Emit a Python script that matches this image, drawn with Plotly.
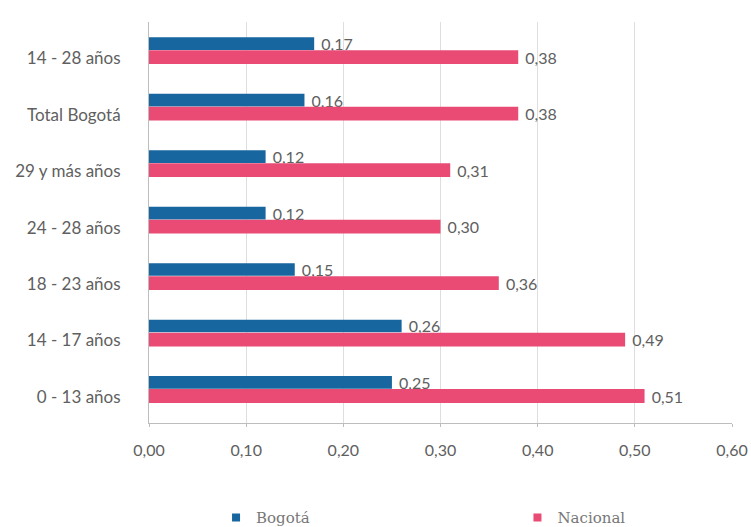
import plotly.graph_objects as go

categories = ["14 - 28 años", "Total Bogotá", "29 y más años", "24 - 28 años",
              "18 - 23 años", "14 - 17 años", "0 - 13 años"]
bogota = [0.17, 0.16, 0.12, 0.12, 0.15, 0.26, 0.25]
nacional = [0.38, 0.38, 0.31, 0.30, 0.36, 0.49, 0.51]
x_ticks = [0.0, 0.1, 0.2, 0.3, 0.4, 0.5, 0.6]

BLUE = "#17669f"
PINK = "#e94b75"
TXT = "#606060"

fig = go.Figure()
fig.add_trace(go.Bar(
    y=categories, x=bogota, name="Bogotá", orientation="h",
    marker=dict(color=BLUE, line=dict(width=0)),
    offset=-0.37, width=0.225, showlegend=False,
    texttemplate="\u00a0%{x:.2f}", textposition="outside", constraintext="none",
    cliponaxis=False,
    textfont=dict(family="Lato", size=16, color=TXT),
))
fig.add_trace(go.Bar(
    y=categories, x=nacional, name="Nacional", orientation="h",
    marker=dict(color=PINK, line=dict(width=0)),
    offset=-0.14, width=0.245, showlegend=False,
    texttemplate="\u00a0%{x:.2f}", textposition="outside", constraintext="none",
    cliponaxis=False,
    textfont=dict(family="Lato", size=16, color=TXT),
))
# legend entries
fig.add_trace(go.Scatter(
    x=[None], y=[None], mode="markers", name="Bogotá",
    marker=dict(symbol="square", size=8, color=BLUE), legend="legend",
))
fig.add_trace(go.Scatter(
    x=[None], y=[None], mode="markers", name="Nacional",
    marker=dict(symbol="square", size=8, color=PINK), legend="legend2",
))

leg_font = dict(family="DejaVu Serif", size=15, color="#777777")
fig.update_layout(
    width=751, height=527,
    margin=dict(l=149, r=19, t=22, b=104, autoexpand=False),
    paper_bgcolor="white", plot_bgcolor="white",
    separators=",.",
    barmode="group",
    font=dict(family="Lato", size=16, color=TXT),
    showlegend=True,
    legend=dict(
        orientation="h", x=0.115, xanchor="left", y=-0.236, yanchor="middle",
        font=leg_font, bgcolor="rgba(0,0,0,0)",
    ),
    legend2=dict(
        orientation="h", x=0.632, xanchor="left", y=-0.236, yanchor="middle",
        font=leg_font, bgcolor="rgba(0,0,0,0)",
    ),
    xaxis=dict(
        range=[0, 0.6], tickvals=x_ticks, tickformat=".2f",
        showgrid=True, gridcolor="#dedede", gridwidth=1,
        showline=True, linecolor="#bdbdbd", linewidth=1,
        ticks="outside", ticklen=3, tickcolor="#bdbdbd",
        zeroline=False, ticklabelstandoff=10, automargin=False,
        tickfont=dict(family="Lato", size=16, color=TXT),
    ),
    yaxis=dict(
        type="category", range=[6.46, -0.64],
        showgrid=False, showline=True, linecolor="#bdbdbd", linewidth=1,
        ticks="", ticklabelstandoff=24, automargin=False,
        tickfont=dict(family="Lato", size=17, color=TXT),
    ),
)

fig.write_html("out.html", config={"displayModeBar": False},
               post_script="document.body.style.margin='0';")
